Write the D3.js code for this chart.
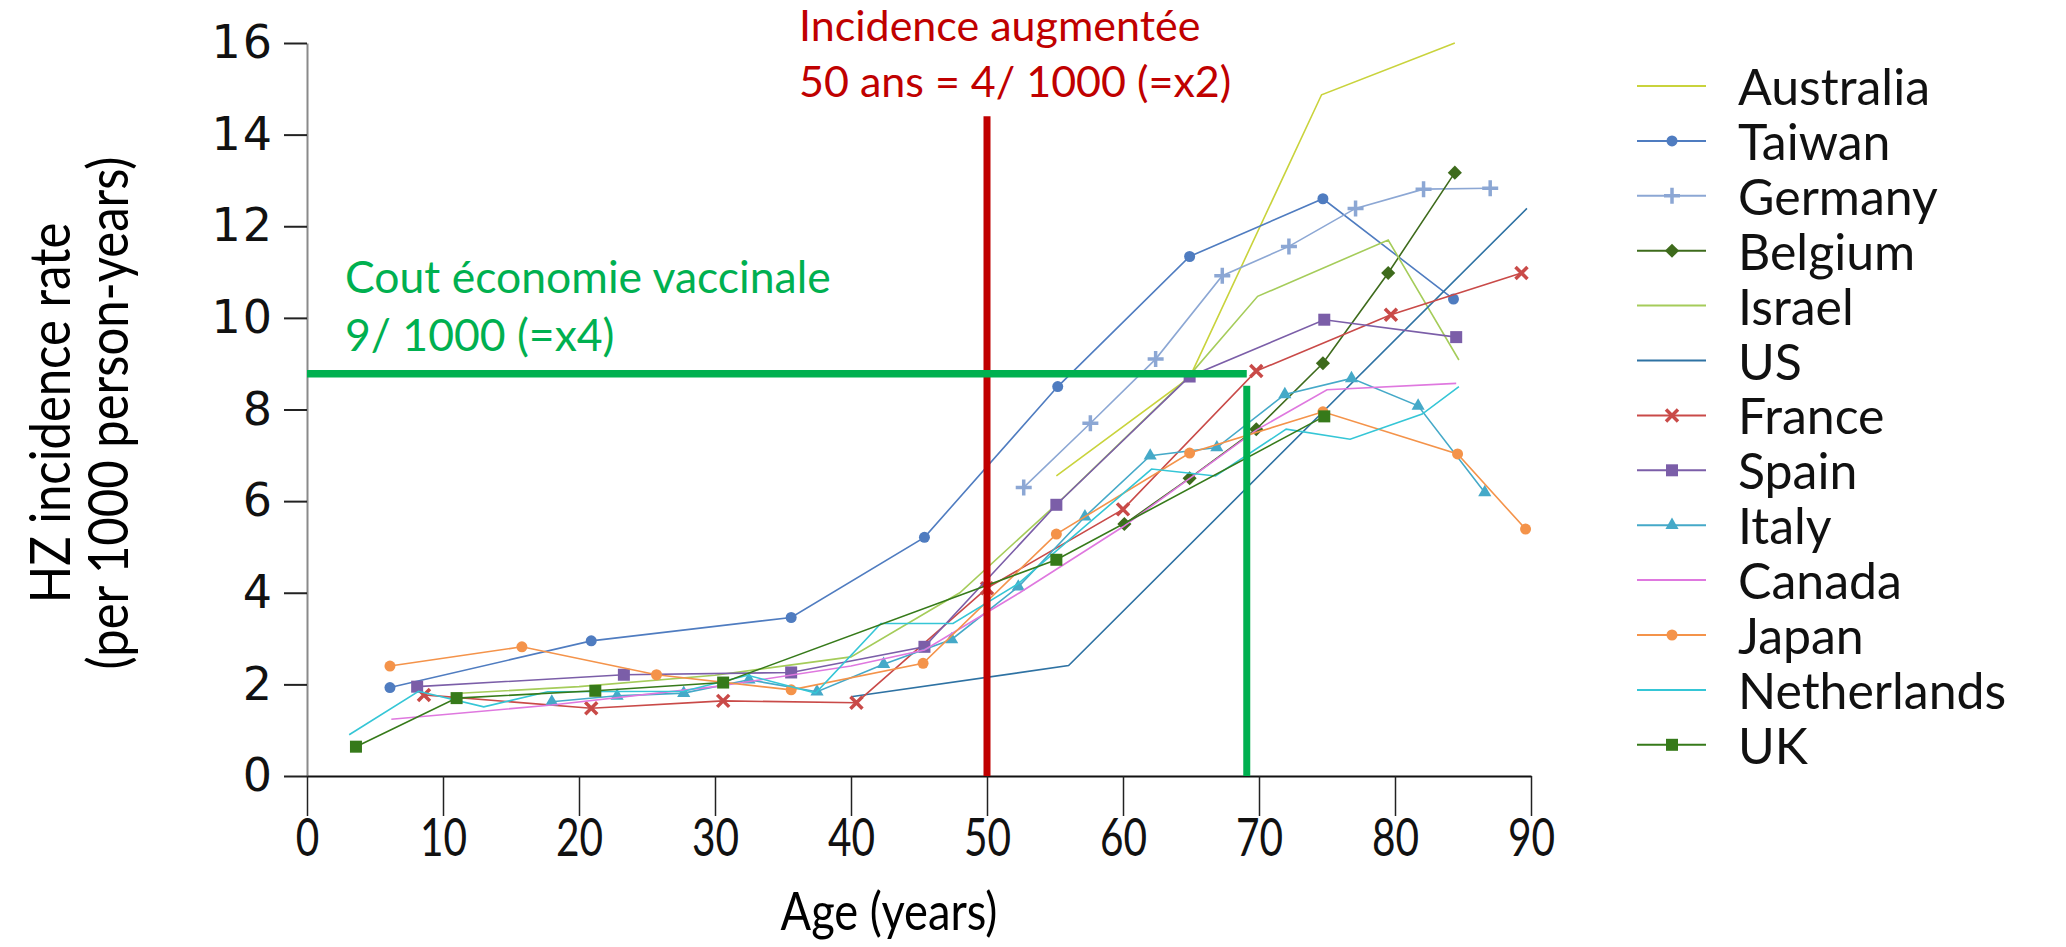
<!DOCTYPE html>
<html lang="en">
<head>
<meta charset="UTF-8" />
<title>HZ incidence rate by age</title>
<script src="https://d3js.org/d3.v7.min.js"></script>
<style>
  body { margin: 0; background: #fff; }
  text { font-family: Lato, "Open Sans", sans-serif; }
  .ytick text { font-family: "DejaVu Sans", sans-serif; }
</style>
</head>
<body>
<svg id="chart" width="2066" height="947"></svg>
<script>
// values: [age (years), HZ rate per 1000 person-years]
const australia = [[55.1, 6.55], [64.9, 8.7], [74.6, 14.87], [84.4, 16.0]];
const taiwan = [[6.1, 1.93], [20.9, 2.95], [35.6, 3.46], [45.4, 5.21], [55.2, 8.5], [64.9, 11.34], [74.7, 12.6], [84.3, 10.41]];
const germany = [[52.7, 6.3], [57.6, 7.7], [62.4, 9.1], [67.3, 10.92], [72.2, 11.56], [77.1, 12.39], [82.1, 12.81], [87.0, 12.83]];
const belgium = [[60.1, 5.5], [64.9, 6.5], [69.8, 7.57], [74.7, 9.01], [79.5, 10.98], [84.4, 13.17]];
const israel = [[10.9, 1.8], [20, 1.95], [30, 2.2], [40, 2.6], [48, 4.0], [55, 5.9], [64.7, 8.68], [69.9, 10.47], [79.5, 11.7], [84.7, 9.08]];
const us = [[40, 1.73], [56, 2.41], [89.7, 12.39]];
const france = [[8.6, 1.77], [20.9, 1.48], [30.6, 1.64], [40.4, 1.6], [50, 4.1], [60, 5.82], [69.8, 8.84], [79.7, 10.07], [89.3, 10.98]];
const spain = [[8.1, 1.95], [23.3, 2.21], [35.6, 2.26], [45.4, 2.82], [55.1, 5.92], [64.9, 8.72], [74.8, 9.96], [84.5, 9.58]];
const italy = [[18, 1.62], [22.8, 1.75], [27.7, 1.81], [32.5, 2.1], [37.5, 1.84], [42.4, 2.44], [47.4, 2.98], [52.3, 4.13], [57.2, 5.66], [62, 6.99], [66.9, 7.17], [71.9, 8.33], [76.8, 8.68], [81.7, 8.08], [86.6, 6.19]];
const canada = [[6.2, 1.24], [18, 1.55], [30, 1.95], [40, 2.4], [45.4, 2.75], [52.4, 4.0], [60, 5.44], [69.8, 7.55], [75, 8.43], [84.5, 8.57]];
const japan = [[6.1, 2.4], [15.8, 2.82], [25.7, 2.21], [35.6, 1.88], [45.3, 2.46], [55.1, 5.28], [64.9, 7.05], [74.7, 7.95], [84.6, 7.03], [89.6, 5.39]];
const netherlands = [[3.1, 0.9], [8.2, 1.85], [13, 1.51], [17.7, 1.84], [27.7, 1.85], [32.4, 2.2], [37.4, 1.81], [42.2, 3.33], [47.5, 3.33], [52.3, 4.2], [62.1, 6.7], [66.8, 6.55], [72, 7.57], [76.7, 7.35], [82, 7.9], [84.7, 8.5]];
const uk = [[3.6, 0.64], [11, 1.7], [21.2, 1.86], [30.6, 2.04], [55.1, 4.72], [74.8, 7.85]];

const countries = ["Australia", "Taiwan", "Germany", "Belgium", "Israel", "US", "France", "Spain", "Italy", "Canada", "Japan", "Netherlands", "UK"];
const countryData = [australia, taiwan, germany, belgium, israel, us, france, spain, italy, canada, japan, netherlands, uk];
const colors = ["#c9d33c", "#4f7cc0", "#8ca7d4", "#3e6b1c", "#a5cc5a", "#2e72a3", "#c94a48", "#7b5ea8", "#45a9c8", "#df78df", "#f4934a", "#35c6d6", "#367a1a"];
const markers = ["none", "circle", "plus", "diamond", "none", "none", "cross", "square", "triangle", "none", "circle", "none", "square"];

const xTicks = [0, 10, 20, 30, 40, 50, 60, 70, 80, 90];
const yTicks = [0, 2, 4, 6, 8, 10, 12, 14, 16];

// annotation guides
const ageRed = 50, redTop = 14.4;
const ageGreen = 69.1, rateGreen = 8.78;
const redText = ["Incidence augmentée", "50 ans = 4/ 1000 (=x2)"];
const greenText = ["Cout économie vaccinale", "9/ 1000 (=x4)"];

const svg = d3.select("#chart");
const x = d3.scaleLinear().domain([0, 90]).range([307, 1531]);
const y = d3.scaleLinear().domain([0, 16]).range([776, 43]);

// axes
const yAxis = svg.append("g").attr("class", "ytick")
  .attr("transform", "translate(" + x(0) + ",0)")
  .call(d3.axisLeft(y).tickValues(yTicks).tickSize(23).tickSizeOuter(0).tickPadding(10));
yAxis.select(".domain").attr("stroke", "#8a8a8a").attr("stroke-width", 2);
yAxis.selectAll(".tick line").attr("stroke", "#222").attr("stroke-width", 2);
yAxis.selectAll(".tick text").attr("font-size", 46).attr("letter-spacing", 2).attr("fill", "#111");

const xAxis = svg.append("g")
  .attr("transform", "translate(0," + y(0) + ")")
  .call(d3.axisBottom(x).tickValues(xTicks).tickSize(40).tickSizeOuter(0));
xAxis.select(".domain").attr("stroke", "#111").attr("stroke-width", 2);
xAxis.selectAll(".tick line").attr("stroke", "#222").attr("stroke-width", 1.5);
xAxis.selectAll(".tick text")
  .attr("font-size", 52).attr("fill", "#111")
  .attr("y", 80).attr("dy", 0)
  .attr("transform", "scale(0.78,1)");

svg.append("text")
  .attr("x", 889).attr("y", 930)
  .attr("text-anchor", "middle")
  .attr("font-size", 52)
  .attr("transform", "translate(889,0) scale(0.87,1) translate(-889,0)")
  .text("Age (years)");

svg.append("text")
  .attr("transform", "translate(70,413) rotate(-90) scale(0.86,1)")
  .attr("text-anchor", "middle").attr("font-size", 57)
  .text("HZ incidence rate");
svg.append("text")
  .attr("transform", "translate(128,413) rotate(-90) scale(0.86,1)")
  .attr("text-anchor", "middle").attr("font-size", 57)
  .text("(per 1000 person-years)");

// series
const line = d3.line().x(d => x(d[0])).y(d => y(d[1]));

function drawMarker(g, type, color) {
  if (type === "circle") {
    g.append("circle").attr("r", 5.5).attr("fill", color);
  } else if (type === "square") {
    g.append("rect").attr("x", -6).attr("y", -6).attr("width", 12).attr("height", 12).attr("fill", color);
  } else if (type === "diamond") {
    g.append("rect").attr("x", -5).attr("y", -5).attr("width", 10).attr("height", 10)
      .attr("transform", "rotate(45)").attr("fill", color);
  } else if (type === "triangle") {
    g.append("path").attr("d", d3.symbol().type(d3.symbolTriangle).size(75)).attr("fill", color);
  } else if (type === "plus") {
    g.append("path").attr("d", "M-8,0H8M0,-8V8").attr("stroke", color).attr("stroke-width", 3.5);
  } else if (type === "cross") {
    g.append("path").attr("d", "M-6,-6L6,6M-6,6L6,-6").attr("stroke", color).attr("stroke-width", 3.5);
  }
}

const plot = svg.append("g");
countries.forEach((name, i) => {
  const g = plot.append("g");
  g.append("path")
    .datum(countryData[i])
    .attr("d", line)
    .attr("fill", "none")
    .attr("stroke", colors[i])
    .attr("stroke-width", 1.6);
  if (markers[i] !== "none") {
    countryData[i].forEach(d => {
      const m = g.append("g").attr("transform", "translate(" + x(d[0]) + "," + y(d[1]) + ")");
      drawMarker(m, markers[i], colors[i]);
    });
  }
});

// legend
const legend = svg.append("g");
countries.forEach((name, i) => {
  const ly = 86 + i * 54.9;
  legend.append("line")
    .attr("x1", 1637).attr("x2", 1706).attr("y1", ly).attr("y2", ly)
    .attr("stroke", colors[i]).attr("stroke-width", 2);
  const m = legend.append("g").attr("transform", "translate(1672," + ly + ")");
  drawMarker(m, markers[i], colors[i]);
  legend.append("text")
    .attr("x", 1738).attr("y", ly + 19)
    .attr("font-size", 50).attr("fill", "#111")
    .text(name);
});

// annotation guides
svg.append("line")
  .attr("x1", x(ageRed)).attr("x2", x(ageRed))
  .attr("y1", y(redTop)).attr("y2", y(0))
  .attr("stroke", "#c00000").attr("stroke-width", 7);
svg.append("line")
  .attr("x1", x(0)).attr("x2", x(ageGreen))
  .attr("y1", y(rateGreen)).attr("y2", y(rateGreen))
  .attr("stroke", "#00b050").attr("stroke-width", 7.5);
svg.append("line")
  .attr("x1", x(ageGreen)).attr("x2", x(ageGreen))
  .attr("y1", y(rateGreen) + 12).attr("y2", y(0))
  .attr("stroke", "#00b050").attr("stroke-width", 7);

redText.forEach((t, i) => {
  svg.append("text").attr("x", 799).attr("y", 41 + i * 56)
    .attr("font-size", 43).attr("fill", "#c00000").text(t);
});
greenText.forEach((t, i) => {
  svg.append("text").attr("x", 345).attr("y", 293 + i * 58)
    .attr("font-size", 44.5).attr("fill", "#00b050").text(t);
});
</script>
</body>
</html>
